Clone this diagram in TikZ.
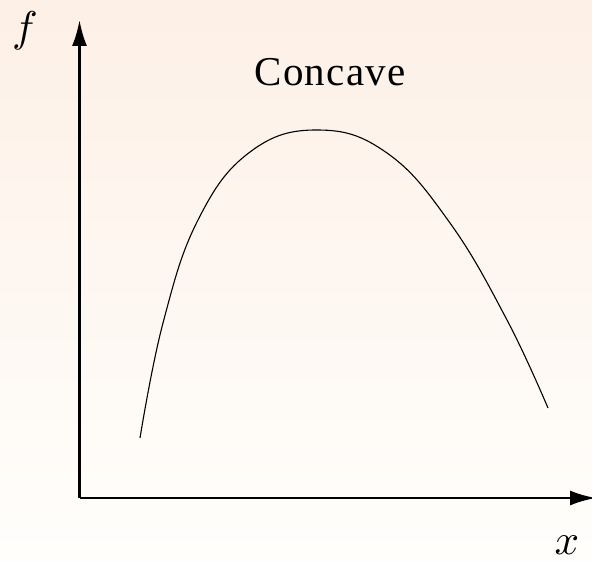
\documentclass[tikz,border=0pt]{standalone}
\usepackage{fontspec}
\setmainfont{Liberation Serif}
\newfontfamily\titlefont[LetterSpace=3]{Liberation Serif}
\usetikzlibrary{arrows.meta}
\definecolor{bgtop}{RGB}{253,240,230}
\definecolor{bgbot}{RGB}{255,254,252}
\begin{document}
\begin{tikzpicture}[x=1pt,y=-1pt,
  axis/.style={line width=2.6pt,-{Latex[length=26pt,width=15pt]}},
  curve/.style={line width=1.1pt},
  lbl/.style={inner sep=0pt},
  mathlbl/.style={inner sep=0pt,scale=4.3}]
\useasboundingbox (0,0) rectangle (592,561);
\shade[top color=bgtop,bottom color=bgbot] (0,0) rectangle (592,561);
\coordinate (o) at (79.5,498);
\coordinate (ytip) at (79.5,20);
\coordinate (xtip) at (596,498);
\draw[axis] (o) -- (ytip);
\draw[axis] (o) -- (xtip);
\node[mathlbl] (flab) at (25,31) {$f$};
\node[mathlbl] (xlab) at (567,545) {$x$};
\node[lbl,font=\fontsize{41}{45}\selectfont\titlefont] (title) at (330,72) {Concave};
\draw[curve] plot[smooth,tension=0.7] coordinates {
 (140,438) (163,323) (198,220) (250,152) (318,130) (387,153)
 (450,223) (507,320) (548,408)};
\end{tikzpicture}
\end{document}
